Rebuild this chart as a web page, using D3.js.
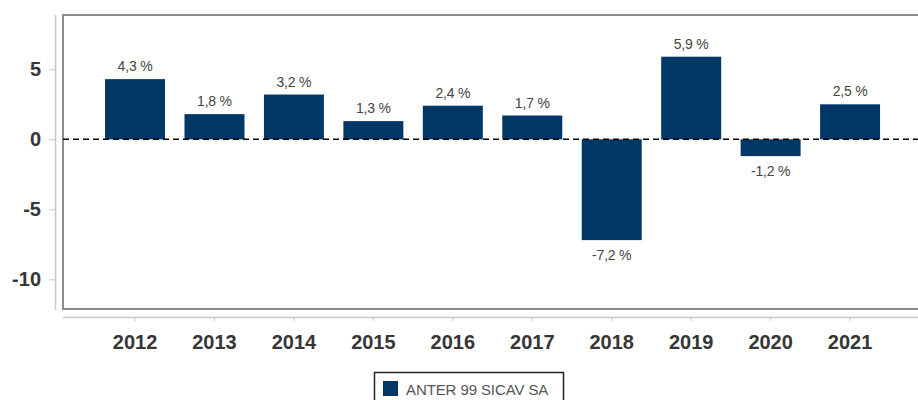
<!DOCTYPE html>
<html lang="en">
<head>
  <meta charset="UTF-8">
  <title>ANTER 99 SICAV SA - annual returns</title>
  <script src="https://d3js.org/d3.v7.min.js"></script>
  <style>
    body {
      margin: 0;
      background: #ffffff;
      font-family: "Liberation Sans", Arial, sans-serif;
    }
    svg {
      display: block;
    }
    .axis-label {
      font-size: 20px;
      font-weight: bold;
      fill: #363636;
    }
    .value-label {
      font-size: 14px;
      fill: #444444;
      letter-spacing: -0.2px;
    }
    .legend-text {
      font-size: 15px;
      fill: #555555;
      letter-spacing: -0.1px;
    }
  </style>
</head>
<body>
  <svg width="918" height="400"></svg>

  <script>
    // Data
    const years = ["2012", "2013", "2014", "2015", "2016", "2017", "2018", "2019", "2020", "2021"];
    const returns = [4.3, 1.8, 3.2, 1.3, 2.4, 1.7, -7.2, 5.9, -1.2, 2.5];
    const yTicks = [5, 0, -5, -10];
    const seriesName = "ANTER 99 SICAV SA";

    const width = 918;
    const height = 400;
    const frame = { left: 63, top: 15, right: 922, bottom: 309 };
    const barColor = "#003764";

    const data = years.map((y, i) => ({ year: y, value: returns[i] }));

    // plain hyphen for negatives, comma as decimal mark
    const fmtTick = v => String(v);
    const fmtValue = v => v.toFixed(1).replace(".", ",") + " %";

    const svg = d3.select("svg")
      .attr("width", width)
      .attr("height", height);

    // Scales
    const x = d3.scaleBand()
      .domain(years)
      .range([95.3, 889.8])
      .paddingInner(0.245)
      .paddingOuter(0.1225);

    const y = d3.scaleLinear()
      .domain([8.88, -12.12])
      .range([frame.top, frame.bottom]);

    // Plot frame
    svg.append("rect")
      .attr("x", frame.left)
      .attr("y", frame.top)
      .attr("width", frame.right - frame.left)
      .attr("height", frame.bottom - frame.top)
      .attr("fill", "none")
      .attr("stroke", "#8c8c8c")
      .attr("stroke-width", 2);

    // Y axis (detached, left of the frame)
    const yAxis = svg.append("g")
      .attr("transform", "translate(55,0)")
      .call(d3.axisLeft(y).tickValues(yTicks).tickSize(6).tickPadding(8).tickFormat(fmtTick));
    yAxis.select(".domain")
      .attr("d", `M0.5,${frame.top}V${frame.bottom + 1}`)
      .attr("stroke", "#c8c8c8")
      .attr("stroke-width", 1.5);
    yAxis.selectAll(".tick line").attr("stroke", "#c8c8c8");
    yAxis.selectAll(".tick text")
      .attr("class", "axis-label")
      .attr("font-family", null)
      .attr("font-size", null)
      .attr("fill", null);

    // X axis (detached, below the frame)
    const xAxis = svg.append("g")
      .attr("transform", "translate(0,317)")
      .call(d3.axisBottom(x).tickSize(4).tickPadding(14));
    xAxis.select(".domain")
      .attr("d", `M${frame.left},0.5H${width}`)
      .attr("stroke", "#c8c8c8")
      .attr("stroke-width", 1.5);
    xAxis.selectAll(".tick line").attr("stroke", "#c8c8c8");
    xAxis.selectAll(".tick text")
      .attr("class", "axis-label")
      .attr("font-family", null)
      .attr("font-size", null)
      .attr("fill", null);

    // Bars
    svg.append("g")
      .selectAll("rect")
      .data(data)
      .join("rect")
      .attr("x", d => x(d.year))
      .attr("width", x.bandwidth())
      .attr("y", d => y(Math.max(0, d.value)))
      .attr("height", d => Math.abs(y(d.value) - y(0)))
      .attr("fill", barColor);

    // Zero line
    svg.append("line")
      .attr("x1", frame.left)
      .attr("x2", width)
      .attr("y1", y(0))
      .attr("y2", y(0))
      .attr("stroke", "#000000")
      .attr("stroke-width", 1.5)
      .attr("stroke-dasharray", "6,4");

    // Value labels
    svg.append("g")
      .selectAll("text")
      .data(data)
      .join("text")
      .attr("class", "value-label")
      .attr("text-anchor", "middle")
      .attr("x", d => x(d.year) + x.bandwidth() / 2)
      .attr("y", d => d.value >= 0 ? y(d.value) - 8 : y(d.value) + 20)
      .text(d => fmtValue(d.value));

    // Legend
    const legend = svg.append("g").attr("transform", "translate(374,372)");
    legend.append("rect")
      .attr("x", 0.5)
      .attr("y", 0.5)
      .attr("width", 189)
      .attr("height", 40)
      .attr("fill", "#ffffff")
      .attr("stroke", "#222222")
      .attr("stroke-width", 1.5);
    legend.append("rect")
      .attr("x", 9)
      .attr("y", 9)
      .attr("width", 15)
      .attr("height", 15)
      .attr("fill", barColor);
    legend.append("text")
      .attr("class", "legend-text")
      .attr("x", 32)
      .attr("y", 22.5)
      .text(seriesName);
  </script>
</body>
</html>
